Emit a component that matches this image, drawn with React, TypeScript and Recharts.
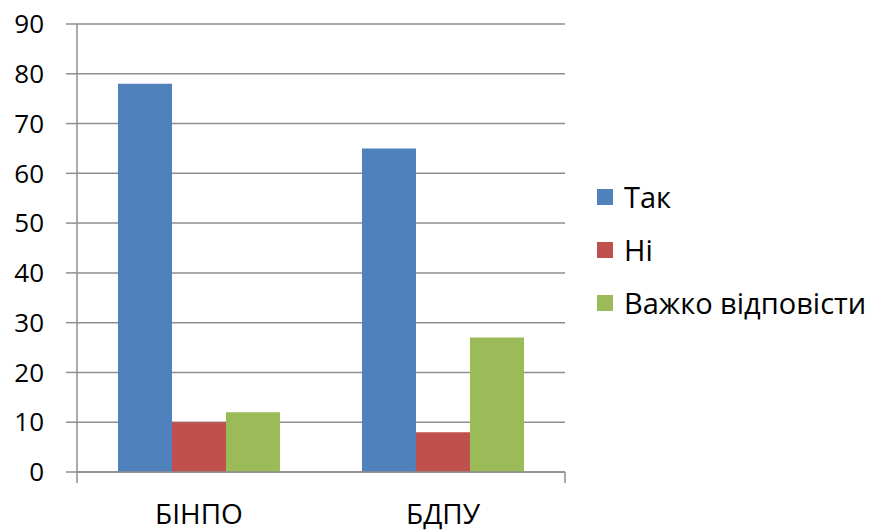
import { BarChart, Bar, XAxis, YAxis, CartesianGrid, ReferenceLine } from 'recharts'

const categories = ['БІНПО', 'БДПУ']
const tak = [78, 65]
const ni = [10, 8]
const vazhko = [12, 27]
const yTicks = [0, 10, 20, 30, 40, 50, 60, 70, 80, 90]
const boundaries = [0, 1, 2]

const series = [
  { key: 'tak', name: 'Так', color: '#4f81bd' },
  { key: 'ni', name: 'Ні', color: '#c0504d' },
  { key: 'vazhko', name: 'Важко відповісти', color: '#9bbb59' },
]

const data = categories.map((c, i) => ({ cat: c, tak: tak[i], ni: ni[i], vazhko: vazhko[i] }))

const font = '"Open Sans", sans-serif'
const gridColor = '#8e8e8e'

export default function App() {
  return (
    <div style={{ position: 'relative', width: 876, height: 532, background: '#fff', fontFamily: font }}>
      <style>{`body{margin:0}`}</style>
      <BarChart
        width={876}
        height={532}
        data={data}
        margin={{ top: 24, right: 311, left: 0, bottom: 0 }}
        barCategoryGap="16.8%"
        barGap={0}
      >
        <CartesianGrid vertical={false} stroke={gridColor} strokeWidth={1.5} />
        <XAxis
          dataKey="cat"
          height={60}
          tickSize={0}
          tickMargin={32}
          axisLine={{ stroke: gridColor, strokeWidth: 1.5 }}
          tick={{ fontSize: 28, fill: '#000', fontFamily: font }}
        />
        <XAxis xAxisId="bounds" type="number" domain={[0, 2]} hide />
        <YAxis
          width={77}
          domain={[0, 90]}
          ticks={yTicks}
          tickSize={11}
          tickMargin={22}
          axisLine={{ stroke: gridColor, strokeWidth: 1.5 }}
          tickLine={{ stroke: gridColor, strokeWidth: 1.5 }}
          tick={{ fontSize: 26, fill: '#000', fontFamily: font }}
        />
        {series.map((s) => (
          <Bar key={s.key} dataKey={s.key} name={s.name} fill={s.color} isAnimationActive={false} />
        ))}
        {boundaries.map((b) => (
          <ReferenceLine
            key={b}
            xAxisId="bounds"
            segment={[{ x: b, y: 0 }, { x: b, y: -2.2 }]}
            ifOverflow="visible"
            stroke={gridColor}
            strokeWidth={1.5}
          />
        ))}
      </BarChart>
      <div style={{ position: 'absolute', left: 597, top: 170 }}>
        {series.map((s) => (
          <div key={s.key} style={{ display: 'flex', alignItems: 'center', height: 53 }}>
            <span style={{ width: 16, height: 16, background: s.color, display: 'inline-block', marginRight: 11 }} />
            <span style={{ fontSize: 29, color: '#000', whiteSpace: 'nowrap' }}>{s.name}</span>
          </div>
        ))}
      </div>
    </div>
  )
}
